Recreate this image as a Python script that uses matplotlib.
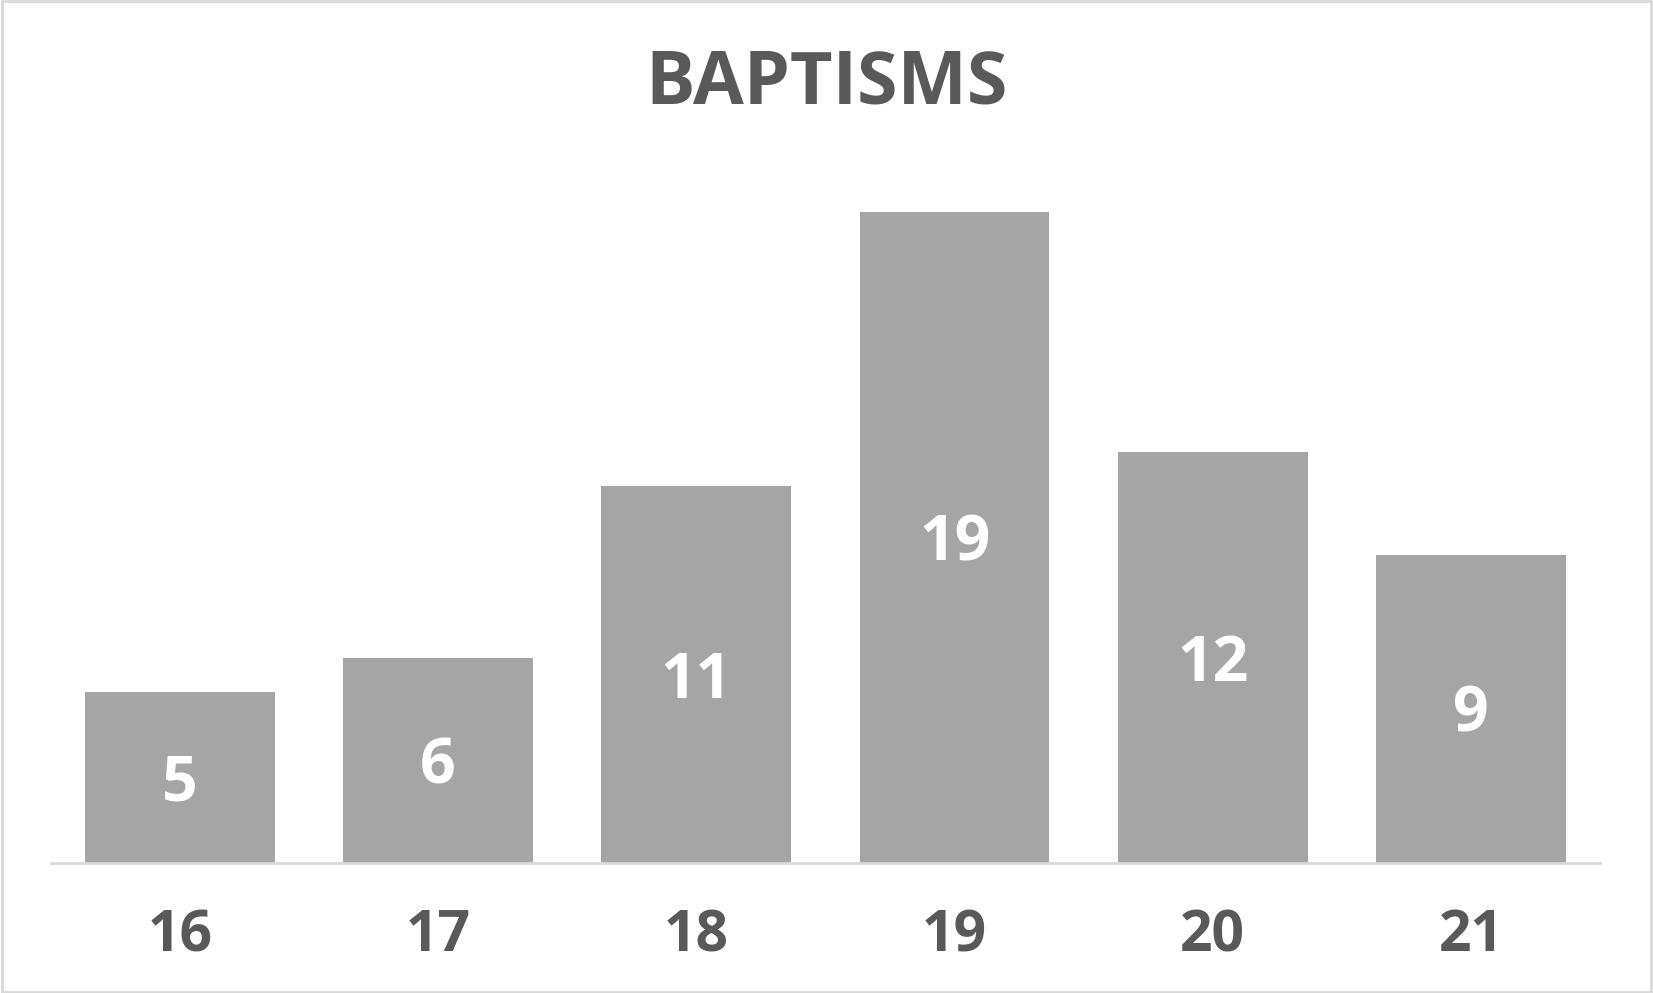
import matplotlib
matplotlib.use('Agg')
import matplotlib.pyplot as plt
from matplotlib.patches import Rectangle

years = ['16', '17', '18', '19', '20', '21']
baptisms = [5, 6, 11, 19, 12, 9]

plt.rcParams['font.family'] = ['Open Sans', 'DejaVu Sans']

fig = plt.figure(figsize=(16.53, 9.93), dpi=100)
ax = fig.add_axes([0.0306, 0.1306, 0.9375, 0.69])

x = range(len(years))
bars = ax.bar(x, baptisms, width=0.735, color='#A5A5A5', zorder=2)
for b, v in zip(bars, baptisms):
    # value label in the middle of each bar
    ax.annotate(str(v), (b.get_x() + b.get_width() / 2, v / 2), xytext=(0, -4.5),
                textcoords='offset points', ha='center', va='center',
                color='white', fontsize=45, fontweight='bold')

ax.set_xlim(-0.5, len(years) - 0.5)
ax.set_ylim(0, 20)
for s in ['top', 'right', 'left']:
    ax.spines[s].set_visible(False)
ax.spines['bottom'].set_color('#D9D9D9')
ax.spines['bottom'].set_linewidth(2)
ax.set_yticks([])
ax.set_xticks(list(x))
ax.set_xticklabels(years, fontsize=41, fontweight='bold', color='#595959')
ax.tick_params(axis='x', length=0, pad=31.5)

fig.text(0.5, 0.915, 'BAPTISMS', ha='center', va='center', fontsize=53,
         fontweight='bold', color='#595959')

fig.patches.append(Rectangle((0.001, 0.001), 0.998, 0.998, transform=fig.transFigure,
                             fill=False, edgecolor='#D9D9D9', linewidth=2))

fig.savefig('out.png', dpi=100)
